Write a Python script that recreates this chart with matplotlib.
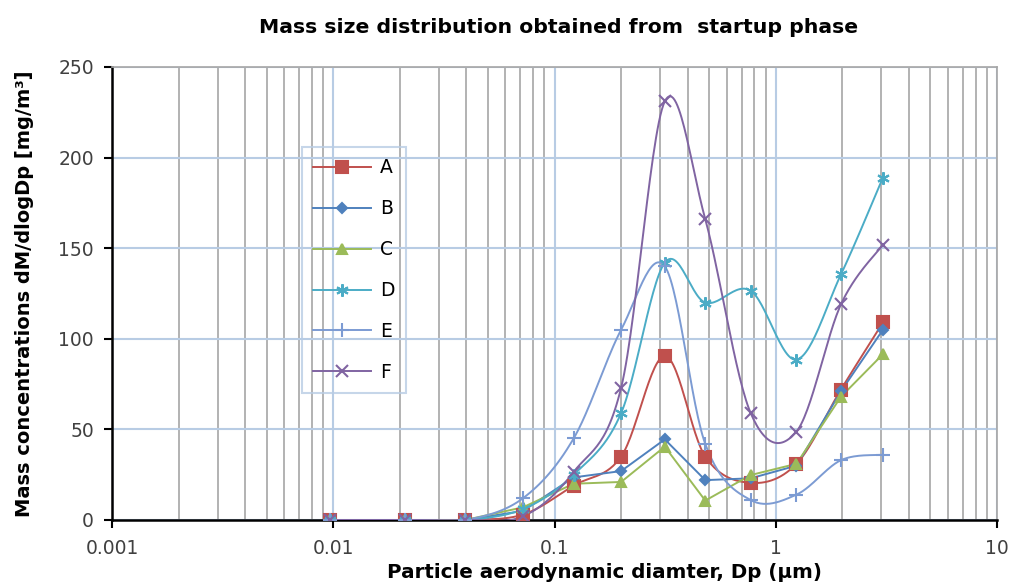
import numpy as np
import matplotlib
matplotlib.use("Agg")
import matplotlib.pyplot as plt
from matplotlib.ticker import LogLocator, NullFormatter

plt.rcParams['font.family'] = ['DejaVu Sans']

# particle size (um) of each impactor stage
dp = [0.0097, 0.021, 0.0395, 0.072, 0.122, 0.2, 0.315, 0.48, 0.77, 1.24, 1.97, 3.05]

A = [0, 0, 0, 3, 19, 35, 90.5, 35, 20.5, 31, 72, 109]
B = [0, 0, 0, 5, 23.5, 27, 44.5, 22, 23, 30, 71, 105]
C = [0, 0, 0, 7, 20, 21, 40.5, 10.7, 24.8, 31, 68, 91.5]
D = [0, 0, 0, 6, 25, 59, 142, 120, 126.5, 88.5, 135.5, 189]
E = [0, 0, 0, 12, 45, 105, 140, 42, 11, 14, 33, 36]
F = [0, 0, 0, 2, 26.5, 73, 231, 166, 59, 48.8, 119, 152]

series = ["A", "B", "C", "D", "E", "F"]
values = [A, B, C, D, E, F]
colors = ["#C0504D", "#4F81BD", "#9BBB59", "#4BACC6", "#7C9BD3", "#8064A2"]
markers = ["s", "D", "^", (6, 2, 0), "+", "x"]
msizes = [8, 5, 7, 9, 10, 8]
smooth = [True, False, False, True, True, True]


def bezier_smooth(x, y, n=30):
    # excel-like smoothed line, done in log10(x) space
    u = np.log10(np.asarray(x, float))
    v = np.asarray(y, float)
    pts = np.column_stack([u, v])
    out = []
    for i in range(len(pts) - 1):
        p0 = pts[i]
        p3 = pts[i + 1]
        pm = pts[i - 1] if i > 0 else pts[i]
        pp = pts[i + 2] if i + 2 < len(pts) else pts[i + 1]
        p1 = p0 + (p3 - pm) / 6.0
        p2 = p3 - (pp - p0) / 6.0
        t = np.linspace(0, 1, n)[:, None]
        seg = ((1 - t) ** 3) * p0 + 3 * ((1 - t) ** 2) * t * p1 + 3 * (1 - t) * t ** 2 * p2 + t ** 3 * p3
        out.append(seg if i == 0 else seg[1:])
    out = np.vstack(out)
    return 10 ** out[:, 0], out[:, 1]


fig = plt.figure(figsize=(10.11, 5.84), dpi=100)
ax = fig.add_axes([0.1108, 0.1096, 0.8754, 0.7757])

for name, vals, c, m, ms, sm in zip(series, values, colors, markers, msizes, smooth):
    if sm:
        xs, ys = bezier_smooth(dp, vals)
    else:
        xs, ys = dp, vals
    ax.plot(xs, ys, color=c, lw=1.4, zorder=3)
    ax.plot(dp, vals, ls="none", marker=m, ms=ms, color=c, mec=c, mew=1.5, zorder=4)
    # legend proxy
    ax.plot([], [], color=c, lw=1.4, marker=m, ms=ms, mec=c, mew=1.5, label=name)

ax.set_xscale("log")
ax.set_xlim(0.001, 10)
ax.set_ylim(0, 250)
ax.set_yticks([0, 50, 100, 150, 200, 250])
ax.set_xticks([0.001, 0.01, 0.1, 1, 10])
ax.set_xticklabels(["0.001", "0.01", "0.1", "1", "10"])
ax.xaxis.set_minor_locator(LogLocator(base=10, subs=np.arange(2, 10)))
ax.xaxis.set_minor_formatter(NullFormatter())

ax.grid(True, which="minor", axis="x", color="#A6A6A6", lw=1.2)
ax.grid(True, which="major", axis="x", color="#B8CCE4", lw=1.5)
ax.grid(True, which="major", axis="y", color="#B8CCE4", lw=1.5)
ax.set_axisbelow(True)

ax.tick_params(axis="both", which="major", direction="out", length=6, width=1.5,
               labelsize=13.5, colors="black")
ax.tick_params(axis="x", which="major", pad=8, labelcolor="#404040")
ax.tick_params(axis="y", which="major", pad=7, labelcolor="#404040")
ax.tick_params(axis="x", which="minor", length=0)

for s in ["left", "bottom"]:
    ax.spines[s].set_color("black")
    ax.spines[s].set_linewidth(1.8)
for s in ["top", "right"]:
    ax.spines[s].set_color("#A6A6A6")
    ax.spines[s].set_linewidth(1.2)

fig.text(0.552, 0.953, "Mass size distribution obtained from  startup phase",
         ha="center", va="center", fontsize=14.7, fontweight="bold")
ax.set_xlabel("Particle aerodynamic diamter, Dp (\u03bcm)", fontsize=14.3, fontweight="bold")
ax.xaxis.set_label_coords(0.557, -0.094)
ax.set_ylabel("Mass concentrations dM/dlogDp [mg/m\u00b3]", fontsize=14, fontweight="bold")
ax.yaxis.set_label_coords(-0.088, 0.5)

leg = ax.legend(loc="upper left", bbox_to_anchor=(302 / 1011, 1 - 147 / 584),
                bbox_transform=fig.transFigure, fontsize=13.5, frameon=True,
                fancybox=False, labelspacing=1.17, handlelength=3.1,
                handletextpad=0.45, borderpad=0.6, borderaxespad=0)
leg.get_frame().set_facecolor("none")
leg.get_frame().set_edgecolor("#B8CCE4")
leg.get_frame().set_linewidth(1.5)

fig.savefig("out.png", dpi=100)
